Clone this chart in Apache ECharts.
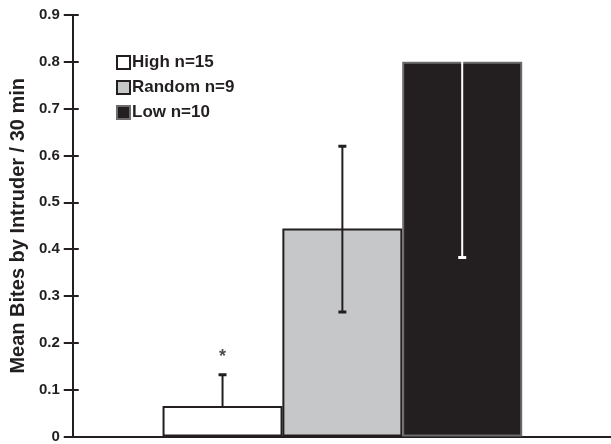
<!DOCTYPE html>
<html><head><meta charset="utf-8">
<script src="https://cdn.jsdelivr.net/npm/echarts@6/dist/echarts.min.js"></script>
<style>html,body{margin:0;padding:0;background:#fff}#c{width:611px;height:444px}</style>
</head><body><div id="c"></div>
<script>
var groups = ['High n=15', 'Random n=9', 'Low n=10'];
var positions = [1.25, 2.25, 3.25];
var means = [0.065, 0.444, 0.80];
var errLow = [0.065, 0.266, 0.382];
var errHigh = [0.132, 0.620, 1.22];
var marks = ['*', '', ''];
var markY = [0.17, 0, 0];
var yTicks = [0, 0.1, 0.2, 0.3, 0.4, 0.5, 0.6, 0.7, 0.8, 0.9];

var fills = ['#ffffff', '#c6c7c9', '#231f20'];
var borders = ['#231f20', '#231f20', '#6d6b6c'];
var errColors = ['#231f20', '#231f20', '#ffffff'];
var ink = '#231f20';
var font = 'Liberation Sans, Arial, sans-serif';

var chart = echarts.init(document.getElementById('c'));
var series = groups.map(function (g, i) {
  return {
    name: g, type: 'bar', barWidth: 120, barGap: '-100%',
    itemStyle: { color: fills[i], borderColor: borders[i], borderWidth: 2 },
    data: [[positions[i], means[i]]], z: 2
  };
});
series.push({
  type: 'custom', z: 5, clip: true,
  data: positions.map(function (p, i) { return [p, errLow[i], errHigh[i], i]; }),
  renderItem: function (params, api) {
    var x = api.value(0), lo = api.value(1), hi = api.value(2), i = api.value(3);
    var a = api.coord([x, lo]), b = api.coord([x, hi]);
    var c = errColors[i];
    var st = { stroke: c, lineWidth: 2 };
    var ch = [{ type: 'line', shape: { x1: a[0], y1: a[1], x2: b[0], y2: b[1] }, style: st }];
    if (i < 2) ch.push({ type: 'line', shape: { x1: b[0] - 4, y1: b[1], x2: b[0] + 4, y2: b[1] }, style: { stroke: c, lineWidth: 3 } });
    if (i > 0) ch.push({ type: 'line', shape: { x1: a[0] - 4, y1: a[1], x2: a[0] + 4, y2: a[1] }, style: { stroke: c, lineWidth: 3 } });
    return { type: 'group', children: ch };
  }
});
series.push({
  type: 'scatter', symbolSize: 0, z: 6,
  data: positions.map(function (p, i) { return [p, markY[i], marks[i]]; }),
  label: { show: true, position: 'inside', formatter: function (p) { return p.value[2]; },
    color: ink, fontSize: 18, fontWeight: 'bold', fontFamily: font }
});

chart.setOption({
  animation: false,
  grid: { left: 72, right: 0, top: 15, bottom: 7, containLabel: false },
  legend: {
    orient: 'vertical', left: 111, top: 49, itemWidth: 13, itemHeight: 13, itemGap: 8,
    icon: 'rect', data: groups,
    textStyle: { fontSize: 17, fontWeight: 'bold', color: ink, fontFamily: font, padding: [0, 0, 0, -3] }
  },
  xAxis: {
    type: 'value', min: 0, max: 539 / 120,
    axisLine: { show: true, lineStyle: { color: ink, width: 2 } },
    axisTick: { show: false }, axisLabel: { show: false }, splitLine: { show: false }
  },
  yAxis: [{
    type: 'value', min: 0, max: 0.9, interval: 0.1,
    name: 'Mean Bites by Intruder / 30 min', nameLocation: 'middle', nameGap: 44,
    nameTextStyle: { fontSize: 20, fontWeight: 'bold', color: ink, fontFamily: font },
    axisLine: { show: true, lineStyle: { color: ink, width: 2 } },
    axisTick: { show: true, length: 9, lineStyle: { color: ink, width: 2 } },
    axisLabel: { fontSize: 15, fontWeight: 'bold', color: ink, fontFamily: font, margin: 13,
      formatter: function (v) { var t = yTicks.filter(function (x) { return Math.abs(x - v) < 1e-6; }); return t.length ? String(t[0]) : ''; } },
    splitLine: { show: false }
  }, {
    type: 'value', min: 0, max: 0.9, interval: 0.1, position: 'left', offset: -6,
    axisLine: { show: true, lineStyle: { color: 'rgba(0,0,0,0)', width: 0 } },
    axisTick: { show: true, length: 15, lineStyle: { color: ink, width: 2 } },
    axisLabel: { show: false }, splitLine: { show: false }
  }],
  series: series
});
</script></body></html>
